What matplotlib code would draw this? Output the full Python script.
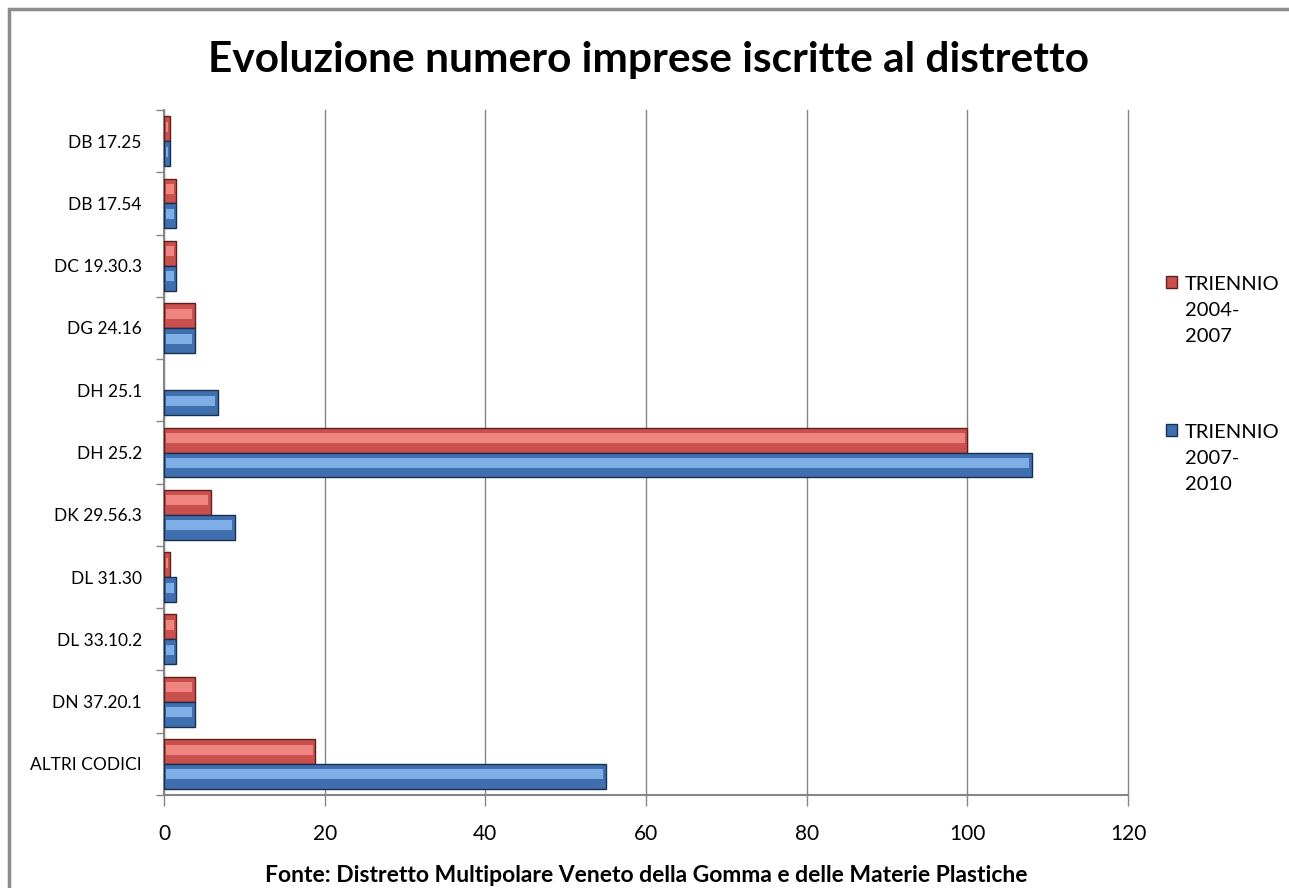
import matplotlib
matplotlib.use("Agg")
import matplotlib.pyplot as plt
from matplotlib.patches import Rectangle, Patch
import numpy as np

plt.rcParams['font.family'] = ['Lato', 'DejaVu Sans']

categories = ["DB 17.25", "DB 17.54", "DC 19.30.3", "DG 24.16", "DH 25.1", "DH 25.2",
              "DK 29.56.3", "DL 31.30", "DL 33.10.2", "DN 37.20.1", "ALTRI CODICI"]
triennio_2004_2007 = [0.8, 1.5, 1.5, 3.8, 0, 100, 5.8, 0.8, 1.5, 3.8, 18.8]
triennio_2007_2010 = [0.8, 1.5, 1.5, 3.8, 6.7, 108, 8.8, 1.5, 1.5, 3.8, 55]
series_labels = ["TRIENNIO\n2004-\n2007", "TRIENNIO\n2007-\n2010"]
x_ticks = [0, 20, 40, 60, 80, 100, 120]

title = "Evoluzione numero imprese iscritte al distretto"
source = "Fonte: Distretto Multipolare Veneto della Gomma e delle Materie Plastiche"

W, H = 1289, 888
fig = plt.figure(figsize=(W / 100, H / 100), dpi=100)
ax = fig.add_axes([164 / W, 1 - 795 / H, (1128 - 164) / W, (795 - 110) / H])

y = np.arange(len(categories))
bh = 0.4
grid_c = "#868686"

red_face, red_edge, red_hi = "#C9504C", "#5E1F1D", "#EE8580"
blue_face, blue_edge, blue_hi = "#3F6FAE", "#17304F", "#7FAEE6"


def draw_series(offset, values, face, edge, hi):
    v = np.array(values, dtype=float)
    edges = [edge if val > 0 else 'none' for val in v]
    ax.barh(y + offset, v, height=bh, color=face, edgecolor=edges,
            linewidth=1.0, zorder=3)
    ax.barh(y + offset - 0.03, np.maximum(v - 0.5, 0), height=bh * 0.4,
            left=np.where(v > 0, 0.2, 0), color=hi, linewidth=0, zorder=4)


draw_series(-bh / 2, triennio_2004_2007, red_face, red_edge, red_hi)
draw_series(bh / 2, triennio_2007_2010, blue_face, blue_edge, blue_hi)

ax.set_xlim(0, 120)
ax.set_ylim(len(categories) - 0.5, -0.5)
ax.set_xticks(x_ticks)
ax.set_xticklabels([str(v) for v in x_ticks], fontsize=15)
ax.tick_params(axis='x', length=8, width=1, color=grid_c, pad=13)

ax.set_yticks(np.arange(-0.5, len(categories), 1.0))
ax.set_yticklabels([])
ax.set_yticks(y, minor=True)
ax.set_yticklabels(categories, minor=True, fontsize=12.5)
ax.tick_params(axis='y', which='major', length=6, width=1, color=grid_c)
ax.tick_params(axis='y', which='minor', length=0, pad=16)

ax.grid(axis='x', color=grid_c, linewidth=1, zorder=0)
for gl in ax.get_xgridlines():
    gl.set_clip_on(False)
ax.set_axisbelow(True)
for s in ['top', 'right']:
    ax.spines[s].set_visible(False)
for s in ['left', 'bottom']:
    ax.spines[s].set_color(grid_c)
    ax.spines[s].set_linewidth(1.5)

ax.set_xlabel(source, fontsize=16.5, fontweight='bold', labelpad=15)
fig.text(649 / W, 1 - 60 / H, title, fontsize=30.5, fontweight='bold',
         ha='center', va='center')

handles = [Patch(facecolor=red_face, edgecolor=red_edge),
           Patch(facecolor=blue_face, edgecolor=blue_edge)]
leg = fig.legend(handles, series_labels, loc='upper left',
                 bbox_to_anchor=(1166 / W, 1 - 276 / H), frameon=False,
                 fontsize=14.5, handlelength=0.55, handleheight=0.55,
                 handletextpad=0.4, labelspacing=3.9, borderpad=0,
                 borderaxespad=0)
for t in leg.get_texts():
    t.set_linespacing(1.65)
try:
    col = leg._legend_handle_box.get_children()[0]
    for hp in col.get_children():
        hp.align = "top"
except Exception:
    pass

fig.add_artist(Rectangle((8.5 / W, -0.1), 2, 1 - 9.5 / H + 0.1,
                         transform=fig.transFigure, fill=False,
                         edgecolor="#8C8C8C", linewidth=2.5))

fig.savefig("out.png", dpi=100)
